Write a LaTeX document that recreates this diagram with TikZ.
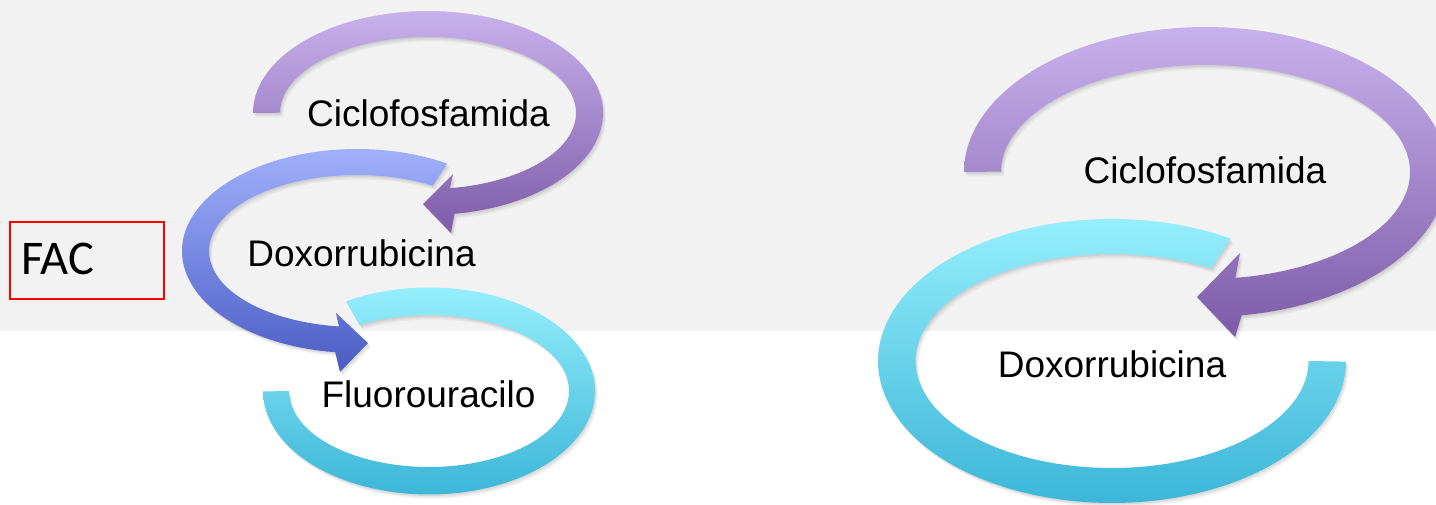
\documentclass[tikz,border=0pt]{standalone}
\usepackage{fontspec}
\setmainfont{Liberation Sans}
\newfontfamily\facfont{Carlito}
\definecolor{bgGray}{HTML}{F2F2F2}
\definecolor{purTop}{HTML}{C7B1EC}
\definecolor{purBot}{HTML}{7E5BA8}
\definecolor{bluTop}{HTML}{A0B0FC}
\definecolor{bluBot}{HTML}{4A5CC4}
\definecolor{cyaTop}{HTML}{95EEFC}
\definecolor{cyaBot}{HTML}{3CB6D8}
\tikzset{
  arcplot/.style={smooth,domain=0:1,samples=70,variable=\t},
  pPurpleL/.style={insert path={
    plot[arcplot] ({428+175*cos(180+261.5*\t)},{113+102*sin(180+261.5*\t)})
    -- (451,233) -- (423,204) -- (453,174)
    -- plot[arcplot] ({428+148*cos(441.5-261.5*\t)},{113+76*sin(441.5-261.5*\t)}) -- cycle}},
  pBlueL/.style={insert path={
    plot[arcplot] ({357+175*cos(-59-204*\t)},{251+102*sin(-59-204*\t)})
    -- (340,372) -- (368,343) -- (336,313)
    -- plot[arcplot] ({357+148*cos(-263+204*\t)},{251+76*sin(-263+204*\t)}) -- cycle}},
  pCyanL/.style={insert path={
    plot[arcplot] ({429+166*cos(240+300*\t)},{391+103.5*sin(240+300*\t)})
    -- plot[arcplot] ({429+140*cos(540-300*\t)},{391+76*sin(540-300*\t)}) -- cycle}},
  pPurpleR/.style={insert path={
    plot[arcplot] ({1205.5+241.5*cos(180+261.6*\t)},{172+145*sin(180+261.6*\t)})
    -- (1235,337) -- (1197,297) -- (1240,253)
    -- plot[arcplot] ({1205.5+204.5*cos(441.6-261.6*\t)},{172+107*sin(441.6-261.6*\t)}) -- cycle}},
  pCyanR/.style={insert path={
    plot[arcplot] ({1112+234*cos(-59.5-300.5*\t)},{361+142*sin(-59.5-300.5*\t)})
    -- plot[arcplot] ({1112+196.5*cos(-360+300.5*\t)},{361+107*sin(-360+300.5*\t)}) -- cycle}},
  shA/.style={black,opacity=0.06,shift={(1,1.5)}},
  shB/.style={black,opacity=0.05,shift={(2,3)}},
  shC/.style={black,opacity=0.04,shift={(3,4.5)}},
  lbl/.style={anchor=base,inner sep=0pt,font=\fontsize{18.5}{22}\selectfont,text=black},
  purshade/.style={top color=purTop,bottom color=purBot},
  blushade/.style={top color=bluTop,bottom color=bluBot},
  cyashade/.style={top color=cyaTop,bottom color=cyaBot}
}
\begin{document}
\begin{tikzpicture}[x=0.5pt,y=-0.5pt]
\useasboundingbox (0,0) rectangle (1436,504);
\fill[white] (0,0) rectangle (1436,504);
\fill[bgGray] (0,0) rectangle (1436,331);
% left group
\fill[shA,pCyanL]; \fill[shB,pCyanL]; \fill[shC,pCyanL];
\shade[cyashade,pCyanL];
\fill[shA,pBlueL]; \fill[shB,pBlueL]; \fill[shC,pBlueL];
\shade[blushade,pBlueL];
\fill[shA,pPurpleL]; \fill[shB,pPurpleL]; \fill[shC,pPurpleL];
\shade[purshade,pPurpleL];
% right group
\fill[shA,pCyanR]; \fill[shB,pCyanR]; \fill[shC,pCyanR];
\shade[cyashade,pCyanR];
\fill[shA,pPurpleR]; \fill[shB,pPurpleR]; \fill[shC,pPurpleR];
\shade[purshade,pPurpleR];
% labels
\node[lbl] (cicL) at (428.5,126) {Ciclofosfamida};
\node[lbl] (doxL) at (361.5,266) {Doxorrubicina};
\node[lbl] (fluL) at (428.5,407) {Fluorouracilo};
\node[lbl] (cicR) at (1205,183) {Ciclofosfamida};
\node[lbl] (doxR) at (1112,377) {Doxorrubicina};
% FAC box
\node (facbox) [draw=red,line width=1pt,anchor=north west,inner sep=0pt,minimum width=77pt,minimum height=38.5pt] at (9,221) {};
\node (fac) [anchor=base west,inner sep=0pt,font=\facfont\fontsize{24.2}{29}\selectfont] at (21,274) {FAC};
\end{tikzpicture}
\end{document}
